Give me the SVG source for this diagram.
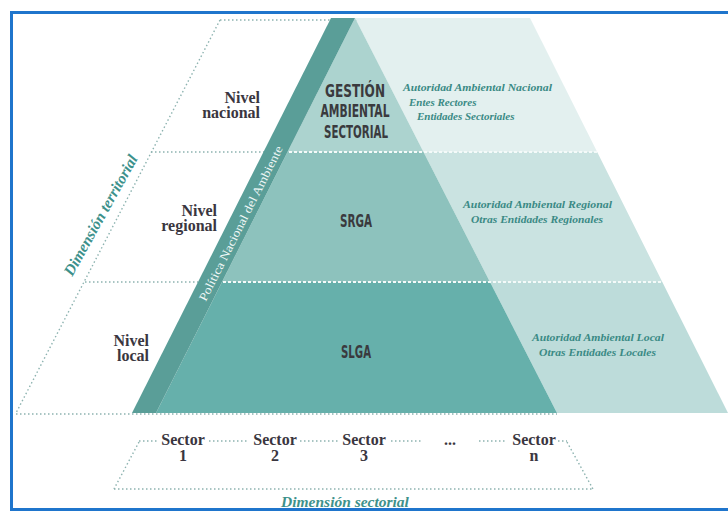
<svg xmlns="http://www.w3.org/2000/svg" width="728" height="512" viewBox="0 0 728 512">
<style>
.dot{fill:none;stroke:#8db3b0;stroke-width:1.4;stroke-dasharray:1.5 2.5}
.wdiv{fill:none;stroke:#f4faf9;stroke-width:2;stroke-dasharray:3 2}
.lvl{font-family:"Liberation Serif",serif;font-weight:bold;font-size:16px;fill:#3a3640;text-anchor:end}
.sec{font-family:"Liberation Serif",serif;font-weight:bold;font-size:16px;fill:#3a3640;text-anchor:middle}
.ttl{font-family:"DejaVu Sans Condensed","DejaVu Sans",sans-serif;font-weight:bold;font-size:18px;fill:#3a3a3e;text-anchor:middle}
.ent{font-family:"Liberation Serif",serif;font-weight:bold;font-style:italic;font-size:11px;fill:#3a8a85}
.dim{font-family:"Liberation Serif",serif;font-weight:bold;font-style:italic;font-size:15.5px;fill:#3d918b}
</style>
<rect x="0" y="0" width="728" height="512" fill="#ffffff"/>
<rect x="11.5" y="12.5" width="740" height="497" fill="none" stroke="#1f75cc" stroke-width="3"/>

<g id="connectors">
  <line class="dot" x1="220" y1="20" x2="532" y2="20"/>
  <line class="dot" x1="220" y1="20" x2="16" y2="413"/>
  <line class="dot" x1="151" y1="152" x2="264" y2="152"/>
  <line class="dot" x1="85" y1="282" x2="198" y2="282"/>
  <line class="dot" x1="16" y1="414" x2="557" y2="414"/>
  <line class="dot" x1="139" y1="441" x2="158" y2="441"/>
  <line class="dot" x1="209" y1="441" x2="249" y2="441"/>
  <line class="dot" x1="300" y1="441" x2="340" y2="441"/>
  <line class="dot" x1="391" y1="441" x2="421" y2="441"/>
  <line class="dot" x1="479" y1="441" x2="507" y2="441"/>
  <line class="dot" x1="558" y1="441" x2="567" y2="441"/>
  <line class="dot" x1="139" y1="442" x2="114" y2="489"/>
  <line class="dot" x1="567" y1="442" x2="593" y2="489"/>
  <line class="dot" x1="114" y1="489" x2="593" y2="489"/>
</g>

<g id="tier-nacional">
  <polygon points="355,18 530,18 597.2,152 423.5,152" fill="#e3f0ef"/>
  <polygon points="355,18 423.5,152 287.5,152" fill="#acd3cf"/>
</g>
<g id="tier-regional">
  <polygon points="423.5,152 597.2,152 662.3,282 490,282" fill="#cae3e1"/>
  <polygon points="287.5,152 423.5,152 490,282 222,282" fill="#8dc2bd"/>
</g>
<g id="tier-local">
  <polygon points="490,282 662.3,282 728,413 557,413" fill="#bddcda"/>
  <polygon points="222,282 490,282 557,413 156,413" fill="#66b0ab"/>
</g>
<g id="band">
  <polygon points="331,18 355,18 156,413 132,413" fill="#5a9e98"/>
  <text x="242" y="224" transform="rotate(-63.3 242 224)" font-family="Liberation Serif, serif" font-size="12" fill="#eef7f6" text-anchor="middle" dominant-baseline="middle" textLength="172" lengthAdjust="spacingAndGlyphs">Política Nacional del Ambiente</text>
</g>
<g id="dividers">
  <line class="wdiv" x1="289" y1="152" x2="597" y2="152"/>
  <line class="wdiv" x1="223" y1="282" x2="662" y2="282"/>
</g>

<g id="labels-levels">
  <text class="lvl" x="260" y="103">Nivel</text>
  <text class="lvl" x="260" y="118">nacional</text>
  <text class="lvl" x="217" y="216">Nivel</text>
  <text class="lvl" x="217" y="231">regional</text>
  <text class="lvl" x="149" y="346">Nivel</text>
  <text class="lvl" x="149" y="361">local</text>
</g>

<g id="labels-center">
  <text class="ttl" x="355" y="97" textLength="60" lengthAdjust="spacingAndGlyphs">GESTIÓN</text>
  <text class="ttl" x="355" y="117" textLength="69" lengthAdjust="spacingAndGlyphs">AMBIENTAL</text>
  <text class="ttl" x="356" y="138" textLength="64" lengthAdjust="spacingAndGlyphs">SECTORIAL</text>
  <text class="ttl" x="356" y="227" textLength="32" lengthAdjust="spacingAndGlyphs">SRGA</text>
  <text class="ttl" x="356" y="358" textLength="30" lengthAdjust="spacingAndGlyphs">SLGA</text>
</g>

<g id="labels-entities">
  <text class="ent" x="403" y="91" textLength="149" lengthAdjust="spacingAndGlyphs">Autoridad Ambiental Nacional</text>
  <text class="ent" x="409" y="106">Entes Rectores</text>
  <text class="ent" x="417" y="120">Entidades Sectoriales</text>
  <text class="ent" x="463" y="208" textLength="149" lengthAdjust="spacingAndGlyphs">Autoridad Ambiental Regional</text>
  <text class="ent" x="471" y="223" textLength="132" lengthAdjust="spacingAndGlyphs">Otras Entidades Regionales</text>
  <text class="ent" x="532" y="341" textLength="132" lengthAdjust="spacingAndGlyphs">Autoridad Ambiental Local</text>
  <text class="ent" x="539" y="356" textLength="117" lengthAdjust="spacingAndGlyphs">Otras Entidades Locales</text>
</g>

<g id="sectors">
  <text class="sec" x="183" y="445">Sector</text>
  <text class="sec" x="183" y="461">1</text>
  <text class="sec" x="275" y="445">Sector</text>
  <text class="sec" x="275" y="461">2</text>
  <text class="sec" x="364" y="445">Sector</text>
  <text class="sec" x="364" y="461">3</text>
  <text class="sec" x="450" y="445">...</text>
  <text class="sec" x="534" y="445">Sector</text>
  <text class="sec" x="534" y="461">n</text>
</g>

<g id="dimensions">
  <text class="dim" x="102" y="216" transform="rotate(-61 102 216)" text-anchor="middle" dominant-baseline="middle">Dimensión territorial</text>
  <text class="dim" x="345" y="507" text-anchor="middle">Dimensión sectorial</text>
</g>
</svg>
